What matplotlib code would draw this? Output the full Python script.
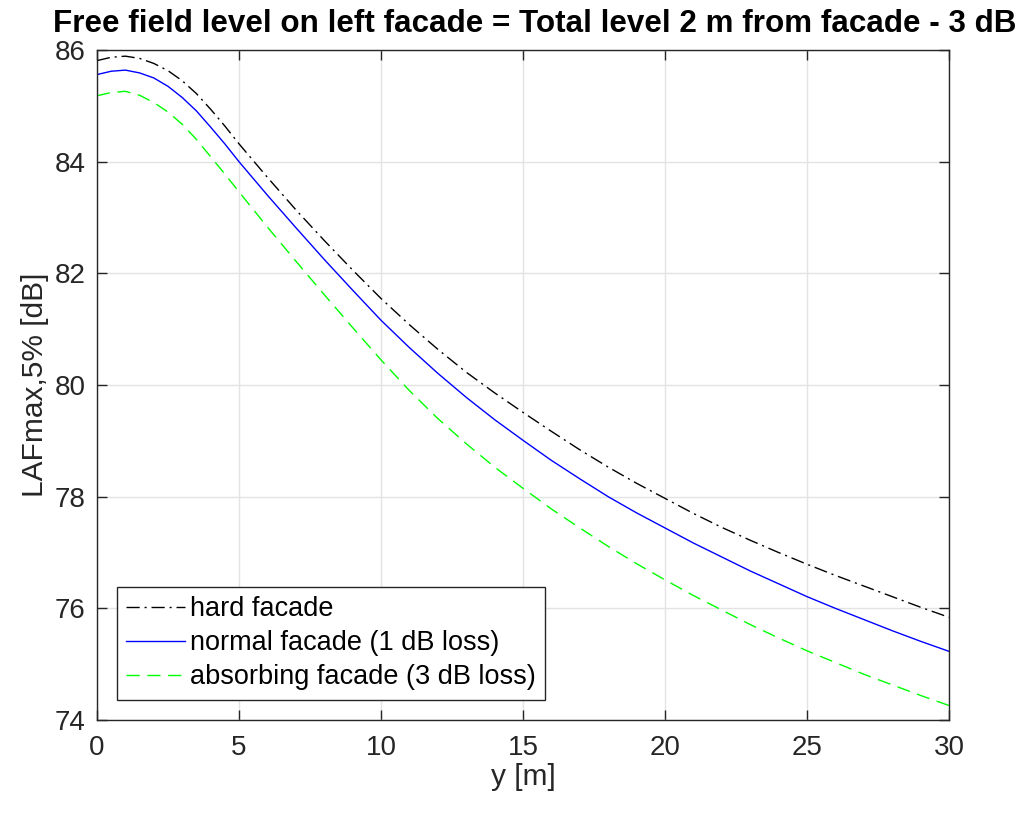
import numpy as np
import matplotlib
matplotlib.use('Agg')
import matplotlib.pyplot as plt

plt.rcParams['font.family'] = ['Liberation Sans', 'DejaVu Sans']

# distance from facade [m]
y_m = [0, 0.5, 1, 1.5, 2, 2.5, 3, 3.5, 4, 4.5, 5, 6, 7, 8, 9, 10, 11, 12, 13,
       14, 15, 16, 17, 18, 19, 20, 21, 22, 23, 24, 25, 26, 27, 28, 29, 30]

# LAFmax,5% [dB] for each facade type
hard = [85.81, 85.87, 85.89, 85.85, 85.76, 85.63, 85.45, 85.22, 84.94, 84.64,
        84.32, 83.72, 83.14, 82.59, 82.06, 81.55, 81.08, 80.64, 80.23, 79.86,
        79.51, 79.17, 78.84, 78.53, 78.24, 77.97, 77.70, 77.45, 77.22, 77.00,
        76.79, 76.59, 76.40, 76.21, 76.02, 75.84]
normal = [85.56, 85.62, 85.64, 85.59, 85.50, 85.35, 85.15, 84.91, 84.62, 84.32,
          84.00, 83.40, 82.82, 82.25, 81.70, 81.16, 80.67, 80.21, 79.78, 79.38,
          79.01, 78.65, 78.32, 78.00, 77.71, 77.44, 77.17, 76.92, 76.67, 76.44,
          76.21, 76.00, 75.80, 75.60, 75.41, 75.23]
absorbing = [85.18, 85.24, 85.26, 85.19, 85.06, 84.89, 84.67, 84.40, 84.09, 83.78,
             83.46, 82.83, 82.22, 81.62, 81.03, 80.45, 79.90, 79.40, 78.95, 78.53,
             78.15, 77.78, 77.44, 77.11, 76.80, 76.51, 76.23, 75.97, 75.71, 75.47,
             75.24, 75.03, 74.82, 74.63, 74.44, 74.26]

labels = ['hard facade', 'normal facade (1 dB loss)', 'absorbing facade (3 dB loss)']
x_ticks = [0, 5, 10, 15, 20, 25, 30]
y_ticks = [74, 76, 78, 80, 82, 84, 86]

axcol = '#262626'

fig = plt.figure(figsize=(10.23, 8.16), dpi=100)
ax = fig.add_axes([0.0948, 0.1176, 0.8329, 0.8211])

ax.plot(y_m, hard, color='k', lw=1.0, dashes=(9.5, 3.5, 1.5, 3.5), label=labels[0])
ax.plot(y_m, normal, color='#0000ff', lw=1.0, label=labels[1])
ax.plot(y_m, absorbing, color='#00ff00', lw=1.0, dashes=(9.5, 5.5), label=labels[2])

ax.set_xlim(0, 30)
ax.set_ylim(74, 86)
ax.set_xticks(x_ticks)
ax.set_yticks(y_ticks)
ax.grid(True, color='#e3e3e3', lw=1.0)
ax.set_axisbelow(True)
ax.tick_params(direction='in', top=True, right=True, length=7, width=1.0,
               colors=axcol, labelsize=20, labelcolor=axcol, pad=8)
ax.tick_params(axis='x', pad=11)
for s in ax.spines.values():
    s.set_color(axcol)
    s.set_linewidth(1.0)

ax.set_xlabel('y [m]', fontsize=21.5, color=axcol, labelpad=1)
ax.set_ylabel('LAFmax,5% [dB]', fontsize=21.5, color=axcol, labelpad=4)
fig.text(535 / 1023, 1 - 32 / 816,
         'Free field level on left facade = Total level 2 m from facade - 3 dB',
         fontsize=22.6, fontweight='bold', color='k', ha='center', va='baseline')

leg = ax.legend(loc='lower left', bbox_to_anchor=(0.0235, 0.03), fontsize=19.5,
                frameon=True, fancybox=False, handlelength=2.15, handletextpad=0.2,
                borderpad=0.35, labelspacing=0.3, borderaxespad=0)
leg.get_frame().set_edgecolor(axcol)
leg.get_frame().set_linewidth(1.0)
leg.get_frame().set_alpha(1)

fig.savefig('out.png', dpi=100, facecolor='white')
